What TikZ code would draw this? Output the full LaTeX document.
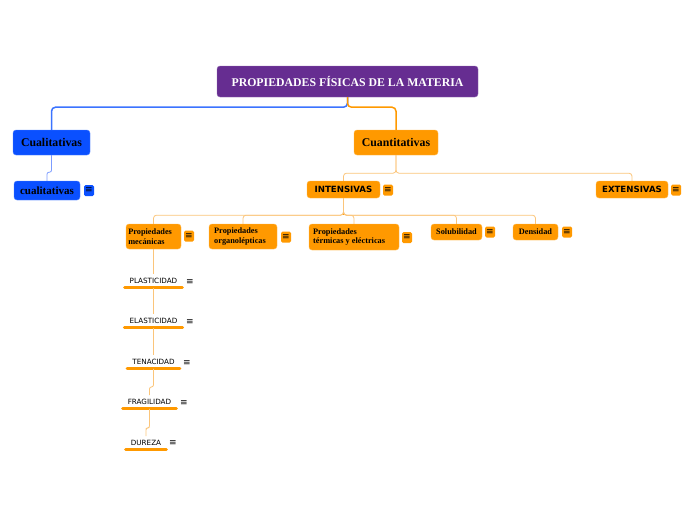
\documentclass[tikz,border=0pt]{standalone}
\usepackage{fontspec}
\setmainfont{Liberation Serif}
\newfontfamily\labelfont{DejaVu Sans}

\definecolor{matpurple}{HTML}{662D91}
\definecolor{matblue}{HTML}{0A50FF}
\definecolor{matorange}{HTML}{FF9900}
\definecolor{lineorange}{HTML}{FBC57A}
\definecolor{lineblue}{HTML}{7C9CFF}

\tikzset{
  box/.style={rounded corners=3pt, inner sep=0pt, font=\bfseries},
  bluebox/.style={box, fill=matblue, draw=matblue!70!white},
  orangebox/.style={box, fill=matorange, draw=matorange!70!white},
  icon/.style={rounded corners=1.5pt, inner sep=0pt, minimum width=10pt,
    minimum height=11pt, font=\labelfont\fontsize{9}{9}\selectfont},
  item/.style={inner xsep=5pt, inner ysep=4pt, font=\labelfont\fontsize{7.2}{8}\selectfont},
  uline/.style={matorange, line width=3pt, line cap=round},
  link/.style={lineorange, line width=0.8pt, rounded corners=3pt},
}

\begin{document}
\begin{tikzpicture}[x=1pt, y=-1pt]
  \useasboundingbox (0,0) rectangle (696,520);

  % Main topic
  \node[box, fill=matpurple, draw=matpurple!70!white, minimum width=261pt, minimum height=31pt,
    text=white, font=\bfseries\fontsize{11.8}{13}\selectfont] (title) at (347.5,81.5)
    {PROPIEDADES FÍSICAS DE LA MATERIA};

  % First level
  \node[bluebox, minimum width=77pt, minimum height=25pt, font=\bfseries\fontsize{11.8}{13}\selectfont]
    (cual) at (51.5,142.5) {Cualitativas};
  \node[orangebox, minimum width=84pt, minimum height=25pt, font=\bfseries\fontsize{11.8}{13}\selectfont]
    (cuan) at (396,142.5) {Cuantitativas};

  \draw[matblue!80!white, line width=1.5pt, rounded corners=4pt] (title.south) -- ++(0,10) -| (cual.north);
  \draw[matorange, line width=1.5pt, rounded corners=4pt] (title.south) -- ++(0,10) -| (cuan.north);

  % Second level
  \node[bluebox, minimum width=66pt, minimum height=19pt, font=\bfseries\fontsize{11}{12}\selectfont]
    (cual2) at (47,190.5) {cualitativas};
  \node[icon, fill=matblue] (icual2) at (89,190.5) {≡};
  \draw[lineblue, line width=0.8pt, rounded corners=2pt] (cual.south) -- ++(0,17) -| (cual2.north);

  \node[orangebox, minimum width=73pt, minimum height=17pt, font=\labelfont\bfseries\fontsize{8.6}{9}\selectfont]
    (int) at (343.5,189.5) {INTENSIVAS};
  \node[icon, fill=matorange] (iint) at (388,190) {≡};
  \node[orangebox, minimum width=72pt, minimum height=17pt, font=\labelfont\bfseries\fontsize{8.6}{9}\selectfont]
    (ext) at (632,189.5) {EXTENSIVAS};
  \node[icon, fill=matorange] (iext) at (676,190) {≡};
  \draw[link] (cuan.south) -- ++(0,18) -| (int.north);
  \draw[link] (cuan.south) -- ++(0,18) -| (ext.north);

  % Third level
  \node[orangebox, minimum width=55pt, minimum height=25pt, align=left,
    font=\bfseries\fontsize{8.3}{9.5}\selectfont] (mec) at (153.5,236.5)
    {Propiedades\\mecánicas\hspace*{14pt}};
  \node[icon, fill=matorange] (imec) at (189,236) {≡};
  \node[orangebox, minimum width=68pt, minimum height=25pt, align=left,
    font=\bfseries\fontsize{8.3}{9.5}\selectfont] (org) at (243,236.5)
    {Propiedades\hspace*{14pt}\\organolépticas};
  \node[icon, fill=matorange] (iorg) at (286,237) {≡};
  \node[orangebox, minimum width=90pt, minimum height=26pt, align=left,
    font=\bfseries\fontsize{8.3}{9.5}\selectfont] (ter) at (354,237)
    {Propiedades\hspace*{38pt}\\térmicas y eléctricas};
  \node[icon, fill=matorange] (iter) at (407,237.5) {≡};
  \node[orangebox, minimum width=51pt, minimum height=16pt,
    font=\bfseries\fontsize{8.3}{9.5}\selectfont] (sol) at (456.5,232) {Solubilidad};
  \node[icon, fill=matorange] (isol) at (490,232) {≡};
  \node[orangebox, minimum width=45pt, minimum height=16pt,
    font=\bfseries\fontsize{8.3}{9.5}\selectfont] (den) at (535.5,232) {Densidad};
  \node[icon, fill=matorange] (iden) at (567,232) {≡};

  \draw[matorange, line width=1.5pt] (int.south) -- ++(0,17);
  \foreach \n in {mec,org,ter,sol,den}
    \draw[link] (int.south) -- ++(0,17) -| (\n.north);

  % Fourth level
  \node[item] (pla) at (153.5,281) {PLASTICIDAD};
  \node[font=\labelfont\fontsize{9}{9}\selectfont] (ipla) at (190,282) {≡};
  \node[item] (ela) at (153.5,321) {ELASTICIDAD};
  \node[font=\labelfont\fontsize{9}{9}\selectfont] (iela) at (190,322) {≡};
  \node[item] (ten) at (153.5,362) {TENACIDAD};
  \node[font=\labelfont\fontsize{9}{9}\selectfont] (iten) at (187,363) {≡};
  \node[item] (fra) at (149.5,402) {FRAGILIDAD};
  \node[font=\labelfont\fontsize{9}{9}\selectfont] (ifra) at (184,403) {≡};
  \node[item] (dur) at (146,443) {DUREZA};
  \node[font=\labelfont\fontsize{9}{9}\selectfont] (idur) at (173,443) {≡};

  \foreach \n in {pla,ela,ten,fra,dur}
    \draw[uline] (\n.south west) -- (\n.south east);

  \draw[link] (mec.south) -- (pla.north);
  \draw[link] (pla.south) -- (ela.north);
  \draw[link] (ela.south) -- (ten.north);
  \draw[link, rounded corners=2pt] (ten.south) -- ++(0,18) -| (fra.north);
  \draw[link, rounded corners=2pt] (fra.south) -- ++(0,19) -| (dur.north);
\end{tikzpicture}
\end{document}
